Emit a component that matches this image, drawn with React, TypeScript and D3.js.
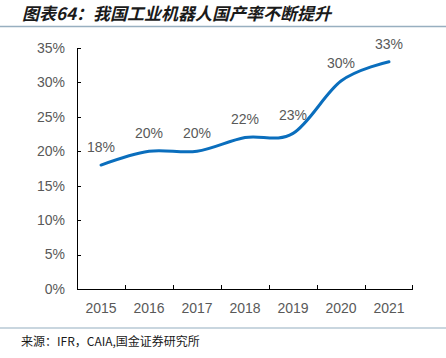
import React from "react";
import * as d3 from "d3";

const years = ["2015", "2016", "2017", "2018", "2019", "2020", "2021"];
const rates = [18.0, 20.0, 20.0, 22.0, 22.6, 30.2, 33.0];
const rateLabels = ["18%", "20%", "20%", "22%", "23%", "30%", "33%"];
const yTicks = [0, 5, 10, 15, 20, 25, 30, 35];
const titleText = "图表64：我国工业机器人国产率不断提升";
const sourceText = "来源：IFR，CAIA,国金证券研究所";

export default function App() {
  const W = 446, H = 358;
  const left = 77, right = 413, top = 48, bottom = 289;
  const x = d3.scaleBand<string>().domain(years).range([left, right]).padding(0);
  const y = d3.scaleLinear().domain([0, 35]).range([bottom, top]);
  const cx = (d: string) => (x(d) as number) + x.bandwidth() / 2;
  const line = d3
    .line<number>()
    .x((_, i) => cx(years[i]))
    .y((d) => y(d))
    .curve(d3.curveCardinal.tension(0));
  const font = "Arial, 'Liberation Sans', sans-serif";
  const cjk = "'Noto Sans CJK SC', sans-serif";
  return (
    <svg width={W} height={H} style={{ position: "absolute", left: 0, top: 0, background: "#fff" }}>
      <text x={22} y={20} fontFamily={cjk} fontSize={17} fontWeight="bold" fontStyle="italic" fill="#1a1a1a">
        {titleText}
      </text>
      <line x1={0} x2={W} y1={26.5} y2={26.5} stroke="#98afc0" strokeWidth={1.5} />
      <line x1={left + 0.5} x2={left + 0.5} y1={top} y2={bottom} stroke="#000" strokeWidth={1} />
      {yTicks.map((t) => (
        <g key={t}>
          <line x1={left} x2={left + 4} y1={Math.round(y(t)) + 0.5} y2={Math.round(y(t)) + 0.5} stroke="#000" />
          <text x={left - 12} y={y(t)} dy="0.35em" textAnchor="end" fontFamily={font} fontSize={14} fill="#595959">
            {t}%
          </text>
        </g>
      ))}
      <line x1={left} x2={right} y1={bottom + 0.5} y2={bottom + 0.5} stroke="#000" />
      {years.map((yr, i) => (
        <g key={yr}>
          {i > 0 && (
            <line x1={Math.round(x(yr) as number) + 0.5} x2={Math.round(x(yr) as number) + 0.5} y1={bottom} y2={bottom - 4} stroke="#000" />
          )}
          <text x={cx(yr)} y={bottom + 19} dy="0.35em" textAnchor="middle" fontFamily={font} fontSize={14} fill="#595959">
            {yr}
          </text>
        </g>
      ))}
      <line x1={right - 0.5} x2={right - 0.5} y1={bottom} y2={bottom - 4} stroke="#000" />
      <path d={line(rates) || ""} fill="none" stroke="#0a6ebd" strokeWidth={3} strokeLinecap="round" />
      {rates.map((v, i) => (
        <text key={i} x={cx(years[i])} y={y(v) - 18} dy="0.35em" textAnchor="middle" fontFamily={font} fontSize={14} fill="#595959">
          {rateLabels[i]}
        </text>
      ))}
      <line x1={0} x2={W} y1={328} y2={328} stroke="#b7c8d4" strokeWidth={1.5} />
      <text x={21} y={346} fontFamily={cjk} fontSize={12} fill="#1a1a1a">
        {sourceText}
      </text>
    </svg>
  );
}
